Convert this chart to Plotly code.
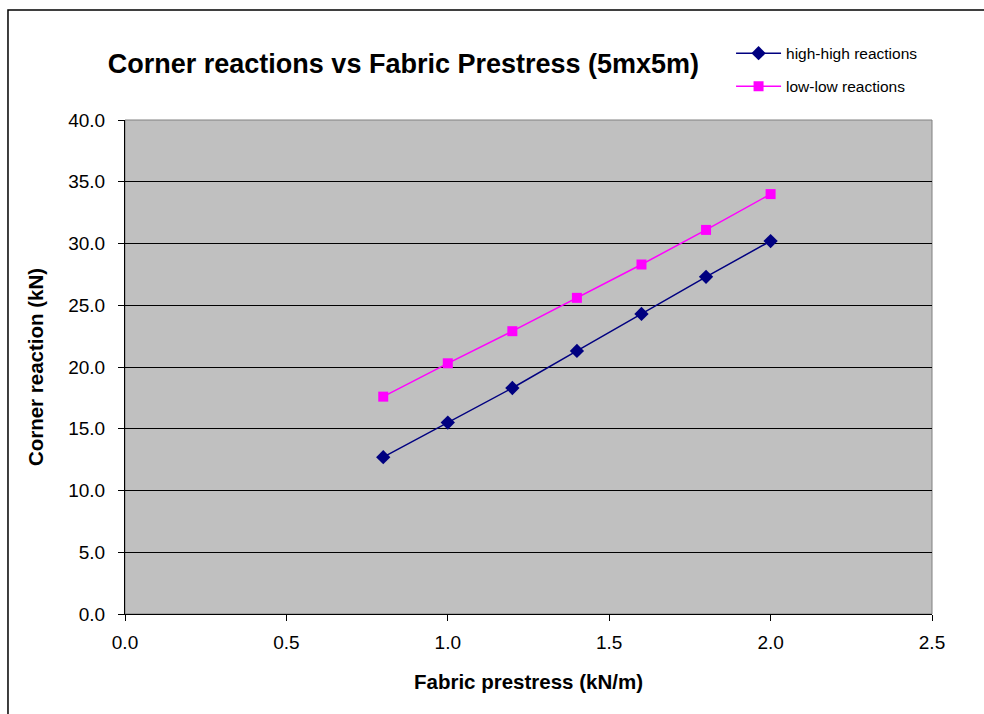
import plotly.graph_objects as go

# Fabric prestress (kN/m)
prestress = [0.8, 1.0, 1.2, 1.4, 1.6, 1.8, 2.0]
# Corner reactions (kN)
high_high = [12.7, 15.5, 18.3, 21.3, 24.3, 27.3, 30.2]
low_low = [17.6, 20.3, 22.9, 25.6, 28.3, 31.1, 34.0]

FONT = "Arial, Liberation Sans, sans-serif"

fig = go.Figure()
fig.add_trace(go.Scatter(
    x=prestress, y=high_high, mode="lines+markers", name="high-high reactions",
    legendgroup="hh",
    line=dict(color="#000080", width=1.5),
    marker=dict(symbol="diamond", size=11, color="#000080"),
))
fig.add_trace(go.Scatter(
    x=prestress, y=low_low, mode="lines+markers", name="low-low reactions",
    legendgroup="ll",
    line=dict(color="#FF00FF", width=1.5),
    marker=dict(symbol="square", size=10, color="#FF00FF"),
))

axis_common = dict(
    showline=True, linecolor="black", linewidth=1, mirror=False,
    ticks="outside", ticklen=6, tickcolor="black", tickwidth=1,
    tickfont=dict(family=FONT, size=19, color="black"),
    tickformat=".1f", zeroline=False,
)

fig.update_layout(
    width=984, height=714,
    margin=dict(l=125, r=52, t=120, b=100, autoexpand=False),
    paper_bgcolor="white",
    plot_bgcolor="#C0C0C0",
    title=dict(
        text="<b>Corner reactions vs Fabric Prestress (5mx5m)</b>",
        font=dict(family=FONT, size=27, color="black"),
        x=0.41, xref="container", xanchor="center",
        y=0.911, yref="container", yanchor="middle",
    ),
    xaxis=dict(
        range=[0, 2.5], dtick=0.5, showgrid=False,
        ticklabelstandoff=5,
        title=dict(text="<b>Fabric prestress (kN/m)</b>",
                   font=dict(family=FONT, size=20.5, color="black"), standoff=22),
        **axis_common,
    ),
    yaxis=dict(
        range=[0, 40], dtick=5, showgrid=True, gridcolor="black", gridwidth=1,
        ticklabelstandoff=9,
        title=dict(text="<b>Corner reaction (kN)</b>",
                   font=dict(family=FONT, size=20.5, color="black"), standoff=19),
        **axis_common,
    ),
    legend=dict(
        x=0.751, xref="paper", xanchor="left",
        y=1.101, yref="paper", yanchor="middle",
        bgcolor="rgba(0,0,0,0)",
        font=dict(family=FONT, size=15.5, color="black"),
        itemwidth=45,
        traceorder="grouped", tracegroupgap=10,
    ),
    showlegend=True,
    shapes=[
        # outer chart frame
        dict(type="rect", xref="paper", yref="paper",
             x0=-0.145, x1=1.2, y0=-0.5, y1=1.2227,
             line=dict(color="black", width=1.5), fillcolor="rgba(0,0,0,0)",
             layer="below"),
        # gray border around the plot area
        dict(type="rect", xref="paper", yref="paper",
             x0=0, x1=1, y0=0, y1=1,
             line=dict(color="#808080", width=1), fillcolor="rgba(0,0,0,0)",
             layer="below"),
    ],
)

fig.write_html("out.html")
